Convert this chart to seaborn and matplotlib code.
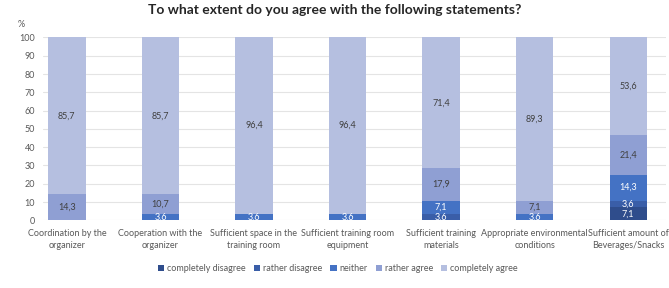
import numpy as np
import pandas as pd
import matplotlib
matplotlib.use("Agg")
import matplotlib.pyplot as plt
import seaborn as sns
from matplotlib.patches import Patch

# data (percent)
categories = [
    "Coordination by the\norganizer",
    "Cooperation with the\norganizer",
    "Sufficient space in the\ntraining room",
    "Sufficient training room\nequipment",
    "Sufficient training\nmaterials",
    "Appropriate environmental\nconditions",
    "Sufficient amount of\nBeverages/Snacks",
]
levels = ["completely disagree", "rather disagree", "neither", "rather agree", "completely agree"]
completely_disagree = [0, 0, 0, 0, 0, 0, 7.1]
rather_disagree = [0, 0, 0, 0, 3.6, 0, 3.6]
neither = [0, 3.6, 3.6, 3.6, 7.1, 3.6, 14.3]
rather_agree = [14.3, 10.7, 0, 0, 17.9, 7.1, 21.4]
completely_agree = [85.7, 85.7, 96.4, 96.4, 71.4, 89.3, 53.6]

colors = ["#2f4d8c", "#3a5ea8", "#4472c4", "#8f9fd3", "#b5bfe0"]
text_colors = ["white", "white", "white", "#404040", "#404040"]

sns.set_theme(style="white")
plt.rcParams["font.family"] = ["Lato", "DejaVu Sans"]

df = pd.DataFrame(
    dict(zip(levels, [completely_disagree, rather_disagree, neither, rather_agree, completely_agree])),
    index=categories,
)
cum = df.cumsum(axis=1)

fig, ax = plt.subplots(figsize=(6.69, 2.88), dpi=100)
fig.subplots_adjust(left=0.065, right=0.995, top=0.87, bottom=0.235)

# draw cumulative totals from the top layer down so each one overlays the next
for lvl, col in reversed(list(zip(levels, colors))):
    sns.barplot(x=list(range(len(categories))), y=cum[lvl].values, color=col,
                width=0.4, saturation=1, linewidth=0, ax=ax, zorder=2)

for j, (lvl, tc) in enumerate(zip(levels, text_colors)):
    for i, cat in enumerate(categories):
        v = df.loc[cat, lvl]
        if v > 0:
            mid = cum.loc[cat, lvl] - v / 2
            ax.text(i, mid, f"{v:.1f}".replace(".", ","), ha="center", va="center",
                    fontsize=6.5, color=tc, zorder=3)

ax.set_xlim(-0.25, 6.4)
ax.set_ylim(0, 100)
ax.set_yticks(range(0, 101, 10))
ax.set_xticks(range(len(categories)))
ax.set_xticklabels(categories, fontsize=6.5, color="#595959", linespacing=1.5)
ax.tick_params(axis="y", labelsize=6.5, labelcolor="#595959", length=0, pad=6)
ax.tick_params(axis="x", length=0, pad=6)
ax.yaxis.grid(True, color="#e4e4e4", linewidth=0.8, zorder=0)
ax.set_axisbelow(True)
for s in ax.spines.values():
    s.set_visible(False)
ax.set_xlabel("")
ax.set_ylabel("")

fig.text(0.027, 0.905, "%", fontsize=6.5, color="#595959")
fig.suptitle("To what extent do you agree with the following statements?",
             fontsize=10, fontweight="bold", color="#262626", y=0.985)

handles = [Patch(facecolor=c, edgecolor="none") for c in colors]
fig.legend(handles, levels, loc="center", ncol=5, frameon=False, fontsize=6.5,
           bbox_to_anchor=(0.505, 0.068), handlelength=0.7, handleheight=0.7,
           handletextpad=0.3, columnspacing=0.9, labelcolor="#595959")

fig.savefig("out.png", dpi=100)
